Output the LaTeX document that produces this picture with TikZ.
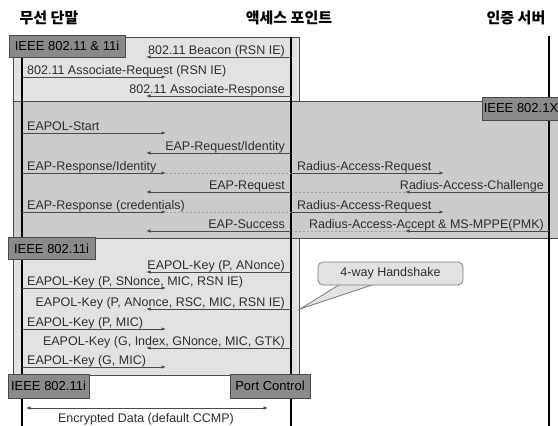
\documentclass[tikz,border=0pt]{standalone}
\usepackage{fontspec}
\setmainfont{Liberation Sans}
\newfontfamily\kr{Noto Sans CJK KR}
\usetikzlibrary{arrows.meta}
\definecolor{lightreg}{HTML}{E2E2E2}
\definecolor{midreg}{HTML}{CBCBCB}
\definecolor{boxfill}{HTML}{8A8A8A}
\definecolor{edge}{HTML}{4A4A4A}
\definecolor{txt}{HTML}{2E2E2E}
\definecolor{dotc}{HTML}{A0A0A0}
\newcommand\msgR[4]{%
  \coordinate (#1a) at (22,#2); \coordinate (#1b) at (166,#2);
  \draw[msg] (#1a) -- (#1b);
  \node[lbl,anchor=base west] (#1t) at (#4,#2-2.5) {#3};}
\newcommand\msgL[3]{%
  \coordinate (#1a) at (291,#2); \coordinate (#1b) at (146,#2);
  \draw[msg] (#1a) -- (#1b);
  \node[lbl,anchor=base east] (#1t) at (285,#2-2.5) {#3};}
\begin{document}
\begin{tikzpicture}[x=1pt,y=-1pt,
 reg/.style={draw=edge,line width=0.8pt},
 life/.style={line width=2pt,draw=black},
 hdr/.style={inner sep=0pt,font=\kr\bfseries\fontsize{15}{15}\selectfont},
 tag/.style={draw=edge,fill=boxfill,line width=0.8pt,inner sep=0pt,font=\fontsize{13}{13}\selectfont},
 msg/.style={draw=edge,line width=0.8pt,-{Latex[length=4.5pt,width=3.5pt]}},
 ext/.style={draw=dotc,line width=0.7pt,dash pattern=on 2pt off 2pt},
 lbl/.style={inner sep=0pt,text=txt,font=\fontsize{12.5}{12.5}\selectfont},
]
\useasboundingbox (0,0) rectangle (558,426);
\fill[white] (0,0) rectangle (558,426);
% regions
\filldraw[reg,fill=lightreg] (13,37) rectangle (299,101);
\fill[midreg] (13,101) rectangle (558,238);
\draw[reg] (558,101) -- (13,101) -- (13,238) -- (558,238);
\filldraw[reg,fill=lightreg] (13,238) rectangle (299,375);
% titles
\node[hdr] (t1) at (49,18) {무선 단말};
\node[hdr] (t2) at (289,18) {액세스 포인트};
\node[hdr] (t3) at (516,18) {인증 서버};
% lifelines
\coordinate (Lt) at (22,57); \coordinate (Lb) at (22,426);
\coordinate (Mt) at (291,37); \coordinate (Mb) at (291,426);
\coordinate (St) at (549,36); \coordinate (Sb) at (549,426);
\draw[life] (Lt) -- (Lb);
\draw[life] (Mt) -- (Mb);
\draw[life] (St) -- (Sb);
% tags
\node[tag,minimum width=116,minimum height=22] (b1) at (67,46) {IEEE 802.11 \& 11i};
\node[tag,minimum width=78,minimum height=23] (b2) at (521,108.5) {IEEE 802.1X};
\node[tag,minimum width=87,minimum height=22] (b3) at (51.5,248.5) {IEEE 802.11i};
\node[tag,minimum width=81,minimum height=24] (b4) at (48.5,386) {IEEE 802.11i};
\node[tag,minimum width=80,minimum height=24] (b5) at (270,386) {Port Control};
% 802.11
\msgL{m1}{57}{802.11 Beacon (RSN IE)}
\msgR{m2}{77}{802.11 Associate-Request (RSN IE)}{27}
\msgL{m3}{96}{802.11 Associate-Response}
% 802.1X
\msgR{m4}{133}{EAPOL-Start}{27}
\msgL{m5}{153}{EAP-Request/Identity}
\msgR{m6}{173}{EAP-Response/Identity}{27}
\coordinate (m6c) at (291,173);
\draw[ext] (m6b) -- (m6c);
\msgL{m7}{192}{EAP-Request}
\msgR{m8}{212}{EAP-Response (credentials)}{27}
\coordinate (m8c) at (291,212);
\draw[ext] (m8b) -- (m8c);
\msgL{m9}{231}{EAP-Success}
% radius
\coordinate (r1a) at (291,173); \coordinate (r1b) at (444,173);
\draw[msg] (r1a) -- (r1b);
\node[lbl,anchor=base west] (r1t) at (297,170.5) {Radius-Access-Request};
\coordinate (r2a) at (549,192); \coordinate (r2b) at (405,192); \coordinate (r2c) at (292,192);
\draw[msg] (r2a) -- (r2b);
\draw[ext] (r2b) -- (r2c);
\node[lbl,anchor=base east] (r2t) at (544,189.5) {Radius-Access-Challenge};
\coordinate (r3a) at (291,212); \coordinate (r3b) at (444,212);
\draw[msg] (r3a) -- (r3b);
\node[lbl,anchor=base west] (r3t) at (297,209.5) {Radius-Access-Request};
\coordinate (r4a) at (549,231); \coordinate (r4b) at (405,231); \coordinate (r4c) at (292,231);
\draw[msg] (r4a) -- (r4b);
\draw[ext] (r4b) -- (r4c);
\node[lbl,anchor=base east] (r4t) at (544,228.5) {Radius-Access-Accept \& MS-MPPE(PMK)};
% 802.11i
\msgL{k1}{272}{EAPOL-Key (P, ANonce)}
\msgR{k2}{288}{EAPOL-Key (P, SNonce, MIC, RSN IE)}{27}
\msgL{k3}{309}{EAPOL-Key (P, ANonce, RSC, MIC, RSN IE)}
\msgR{k4}{329}{EAPOL-Key (P, MIC)}{27}
\msgL{k5}{348}{EAPOL-Key (G, Index, GNonce, MIC, GTK)}
\msgR{k6}{367}{EAPOL-Key (G, MIC)}{27}
% callout
\coordinate (hs) at (300,309);
\filldraw[fill=lightreg,draw=gray,line width=0.8pt] (342,283) -- (hs) -- (378,283);
\node[lbl,draw=gray,fill=lightreg,line width=0.8pt,rounded corners=5pt,minimum width=145,minimum height=23] (hand) at (390.5,273.5) {4-way Handshake};
% encrypted data
\coordinate (d1) at (26,408); \coordinate (d2) at (268,408);
\draw[draw=edge,line width=0.8pt,{Latex[length=4.5pt,width=3.5pt]}-{Latex[length=4.5pt,width=3.5pt]}] (d1) -- (d2);
\node[lbl] (enc) at (146,419.5) {Encrypted Data (default CCMP)};
\end{tikzpicture}
\end{document}
